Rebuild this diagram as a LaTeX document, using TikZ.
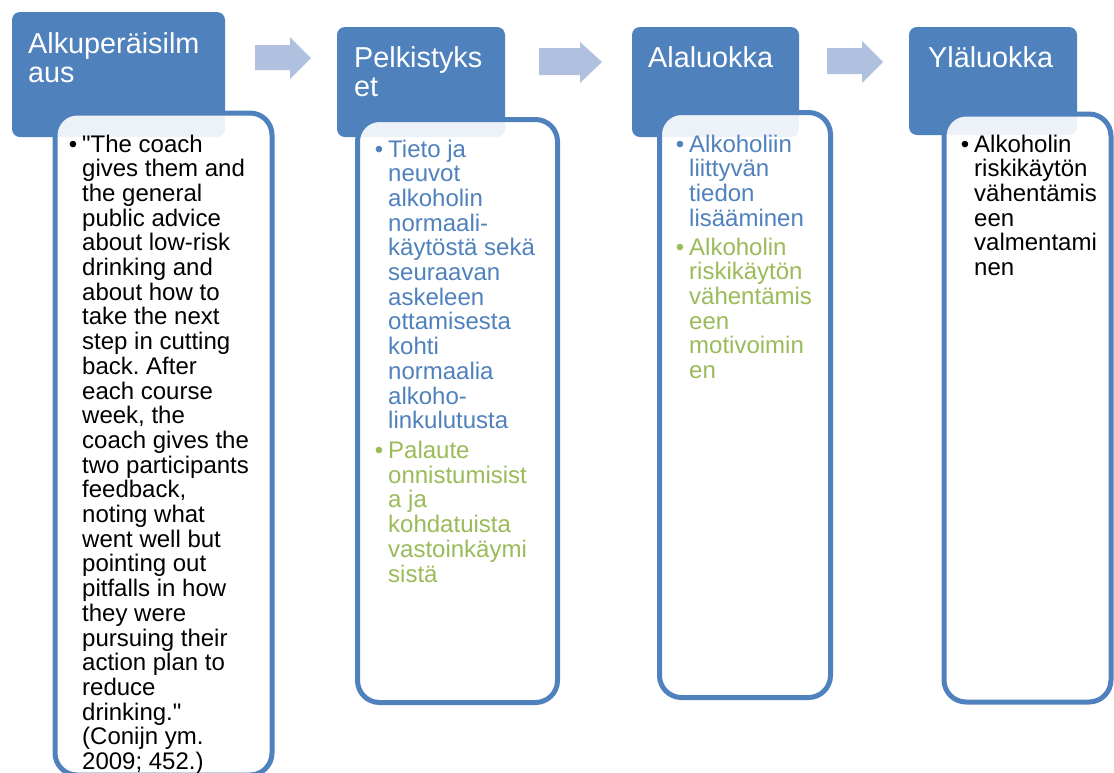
\documentclass[tikz,border=0pt]{standalone}
\usepackage{fontspec}
\setmainfont{Liberation Sans}[Ligatures=TeXOff]
\definecolor{hdrblue}{HTML}{4F81BD}
\definecolor{txtgreen}{HTML}{9BBB59}
\definecolor{arrowblue}{HTML}{AFC1DF}
\newcommand{\bul}{\llap{•\hspace{5pt}}}
\frenchspacing
\begin{document}
\begin{tikzpicture}[x=1pt,y=-1pt,
  header/.style={fill=hdrblue, draw=none, rounded corners=8pt},
  bodybox/.style={fill=white, fill opacity=0.9, draw=hdrblue, draw opacity=1, line width=5pt, rounded corners=22pt},
  flowarrow/.style={fill=arrowblue, draw=none},
  hdrtext/.style={anchor=base west, align=left, inner sep=0pt, text=white, font=\fontsize{28.8}{29}\selectfont},
  bodytext/.style={anchor=base west, align=left, inner sep=0pt, font=\fontsize{24}{24.7}\selectfont}]
\useasboundingbox (0,0) rectangle (1114,772);
% headers
\draw[header] (12,12) rectangle (225,137);
\draw[header] (337,27) rectangle (505,137);
\draw[header] (632,27) rectangle (799,137);
\draw[header] (909,27) rectangle (1077,135);
% bodies
\draw[bodybox] (55,113) rectangle (272,775);
\draw[bodybox] (357.5,119.5) rectangle (557.5,702.5);
\draw[bodybox] (659.5,112.5) rectangle (830.5,697.5);
\draw[bodybox] (944,114) rectangle (1111,702);
% arrows
\fill[flowarrow] (255,45) -- (290,45) -- (290,37) -- (311,58) -- (290,79) -- (290,70) -- (255,70) -- cycle;
\fill[flowarrow] (539,48) -- (580,48) -- (580,42) -- (602,62) -- (580,83) -- (580,75) -- (539,75) -- cycle;
\fill[flowarrow] (827,48) -- (862,48) -- (862,41) -- (883,62) -- (862,83) -- (862,74) -- (827,74) -- cycle;
% header texts (base anchor = last line baseline)
\node[hdrtext] (h1) at (28,82) {Alkuperäisilm\\aus};
\node[hdrtext] (h2) at (354,96) {Pelkistyks\\et};
\node[hdrtext] (h3) at (648,67) {Alaluokka};
\node[hdrtext] (h4) at (928,67) {Yläluokka};
% body texts (base anchor = last line baseline)
\node[bodytext, text=black] (b1) at (82,769.5) {\bul"The coach\\gives them and\\the general\\public advice\\about low-risk\\drinking and\\about how to\\take the next\\step in cutting\\back. After\\each course\\week, the\\coach gives the\\two participants\\feedback,\\noting what\\went well but\\pointing out\\pitfalls in how\\they were\\pursuing their\\action plan to\\reduce\\drinking."\\(Conijn ym.\\2009; 452.)};
\node[bodytext, text=hdrblue] (b2a) at (388,428.7) {\bul Tieto ja\\neuvot\\alkoholin\\normaali-\\käytöstä sekä\\seuraavan\\askeleen\\ottamisesta\\kohti\\normaalia\\alkoho-\\linkulutusta};
\node[bodytext, text=txtgreen] (b2b) at (388,582) {\bul Palaute\\onnistumisist\\a ja\\kohdatuista\\vastoinkäymi\\sistä};
\node[bodytext, text=hdrblue] (b3a) at (689,226.1) {\bul Alkoholiin\\liittyvän\\tiedon\\lisääminen};
\node[bodytext, text=txtgreen] (b3b) at (689,378.5) {\bul Alkoholin\\riskikäytön\\vähentämis\\een\\motivoimin\\en};
\node[bodytext, text=black] (b4) at (974,275.5) {\bul Alkoholin\\riskikäytön\\vähentämis\\een\\valmentami\\nen};
\end{tikzpicture}
\end{document}
